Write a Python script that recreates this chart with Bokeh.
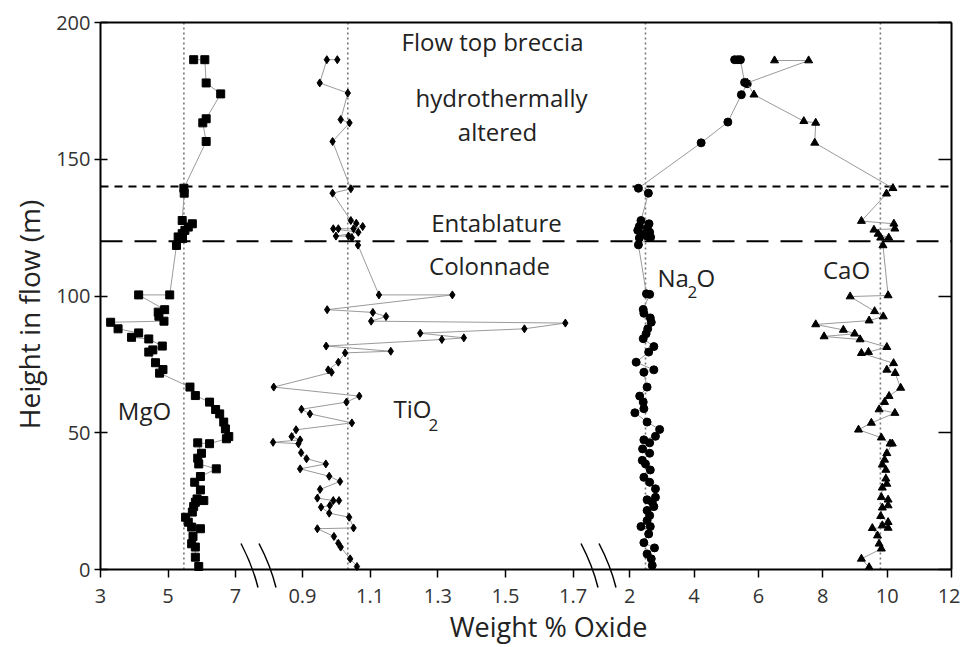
import numpy as np
from bokeh.plotting import figure
from bokeh.models import Range1d, LinearAxis, FixedTicker
from bokeh.core.properties import value
from bokeh.embed import file_html
from bokeh.resources import INLINE

# ---------------- data ----------------
mgo_val = [5.76, 6.09, 6.13, 6.56, 6.13, 6.03, 6.13, 5.47, 5.48, 5.42, 5.72, 5.60, 5.50, 5.42,
           5.30, 5.43, 5.25, 5.05, 4.13, 4.90, 4.71, 4.73, 4.88, 3.30, 3.52, 4.13, 3.92, 4.43,
           4.83, 4.55, 4.43, 4.63, 4.85, 4.75, 5.65, 5.81, 6.23, 6.41, 6.53, 6.65, 6.70, 6.80,
           6.73, 6.23, 5.88, 5.99, 5.88, 5.91, 6.43, 5.96, 5.79, 5.96, 5.86, 6.06, 5.81, 5.76,
           5.72, 5.52, 5.60, 5.70, 5.96, 5.74, 5.70, 5.81, 5.81, 5.91]
mgo_h = [186.4, 186.4, 177.9, 173.9, 164.8, 163.3, 156.5, 139.4, 137.6, 127.6, 126.4, 125.2,
         124.0, 122.8, 121.6, 121.0, 118.5, 100.4, 100.4, 95.0, 94.1, 92.6, 90.8, 90.4, 88.0,
         86.5, 84.9, 84.3, 81.7, 80.3, 79.5, 75.6, 73.1, 71.8, 66.7, 63.6, 61.2, 58.5, 56.9,
         53.9, 51.4, 48.6, 47.8, 46.0, 46.3, 42.5, 40.7, 38.6, 36.8, 34.0, 31.9, 29.1, 25.8,
         25.2, 24.6, 23.0, 21.0, 19.1, 17.3, 15.5, 14.9, 12.1, 9.4, 8.2, 4.5, 1.1]

tio2_val = [1.003, 0.972, 0.951, 1.034, 1.013, 1.039, 0.989, 1.043, 0.989, 1.043, 1.059, 1.078,
            1.051, 1.006, 0.991, 1.065, 0.999, 1.036, 1.046, 1.064, 1.126, 1.343, 0.973, 1.108,
            1.147, 1.103, 1.677, 1.556, 1.248, 1.377, 1.312, 0.970, 1.161, 1.026, 1.006, 0.976,
            0.986, 0.815, 1.068, 1.030, 0.897, 0.922, 1.046, 0.881, 0.868, 0.893, 0.813, 0.888,
            0.896, 0.912, 0.969, 0.893, 0.979, 1.011, 0.952, 0.944, 0.991, 1.008, 0.981, 0.955,
            0.979, 1.038, 1.051, 0.944, 0.993, 1.006, 1.013, 1.041, 1.061]
tio2_h = [186.4, 186.4, 177.9, 174.2, 164.5, 163.3, 156.5, 139.2, 137.6, 127.6, 126.6, 125.4,
          124.6, 124.6, 124.6, 123.3, 121.9, 121.9, 121.3, 118.6, 100.4, 100.4, 95.0, 94.0,
          92.5, 90.8, 90.1, 88.0, 86.4, 84.7, 84.1, 81.7, 79.8, 79.2, 75.8, 73.0, 72.1, 66.7,
          63.4, 61.2, 58.6, 56.9, 53.6, 51.1, 48.6, 47.4, 46.5, 46.0, 42.7, 40.5, 38.6, 36.8,
          34.1, 32.2, 29.3, 26.1, 25.2, 25.2, 23.4, 22.8, 20.6, 19.1, 15.2, 14.9, 12.1, 9.6,
          8.2, 3.9, 1.1]

na2o_val = [5.26, 5.36, 5.44, 5.57, 5.65, 5.47, 5.05, 4.22, 2.27, 2.58, 2.35, 2.60, 2.30, 2.55,
            2.25, 2.62, 2.40, 2.55, 2.30, 2.65, 2.27, 2.52, 2.62, 2.42, 2.44, 2.64, 2.67, 2.56,
            2.51, 2.42, 2.75, 2.59, 2.20, 2.75, 2.44, 2.54, 2.31, 2.42, 2.44, 2.16, 2.54, 2.93,
            2.80, 2.44, 2.62, 2.40, 2.62, 2.39, 2.49, 2.64, 2.44, 2.62, 2.80, 2.80, 2.54, 2.70,
            2.75, 2.54, 2.62, 2.54, 2.35, 2.64, 2.59, 2.44, 2.77, 2.54, 2.67, 2.70]
na2o_h = [186.4, 186.4, 186.4, 178.1, 177.6, 173.6, 163.6, 156.0, 139.4, 137.6, 127.6, 126.4,
          125.5, 124.8, 124.0, 123.3, 122.6, 121.8, 121.2, 121.5, 118.7, 100.8, 100.6, 95.1,
          93.7, 92.0, 90.4, 88.0, 86.2, 84.4, 81.5, 79.5, 75.8, 73.0, 72.1, 66.7, 63.4, 61.2,
          58.8, 57.3, 53.9, 51.2, 48.7, 47.4, 46.3, 44.1, 42.5, 39.9, 38.6, 36.4, 33.7, 31.9,
          29.5, 26.4, 25.5, 24.6, 23.0, 21.6, 19.7, 17.9, 15.7, 15.7, 13.0, 9.8, 7.9, 5.7,
          3.9, 1.5]

cao_val = [6.50, 7.56, 5.65, 5.86, 7.41, 7.78, 7.75, 10.18, 9.98, 9.20, 10.21, 10.24, 9.59, 9.72,
           10.05, 9.80, 9.87, 10.03, 8.85, 9.61, 9.88, 9.44, 7.78, 8.64, 8.99, 8.04, 9.16, 9.99,
           9.42, 9.20, 10.20, 9.99, 10.25, 10.42, 10.06, 9.92, 9.75, 10.24, 9.51, 9.11, 9.82,
           10.09, 10.16, 9.99, 9.92, 9.85, 9.96, 9.96, 9.99, 9.85, 9.82, 10.03, 10.03, 9.85,
           9.80, 10.03, 9.85, 10.03, 9.54, 9.70, 9.75, 9.82, 9.20, 9.44]
cao_h = [186.1, 186.1, 177.9, 173.6, 163.9, 163.3, 156.0, 139.4, 137.4, 127.4, 126.4, 124.6,
         124.2, 122.7, 121.3, 121.3, 118.5, 100.2, 99.8, 94.4, 92.5, 91.0, 89.6, 87.6, 86.2,
         85.2, 84.1, 81.3, 79.5, 79.1, 75.4, 73.0, 71.8, 66.4, 63.4, 61.2, 58.5, 57.2, 53.6,
         51.1, 48.2, 46.0, 46.0, 42.5, 40.1, 38.3, 36.4, 33.2, 31.3, 29.9, 26.4, 25.5, 23.4,
         22.6, 19.5, 17.3, 16.1, 15.2, 15.1, 12.4, 9.4, 7.6, 3.9, 0.8]

# reference (mean) values drawn as dotted verticals
ref_mgo, ref_tio2, ref_na2o, ref_cao = 5.47, 1.034, 2.49, 9.79
# unit boundaries (m)
boundary_top = 140
boundary_entab = 120

# tick labels of the broken axis
ticks_mgo = [3, 5, 7]
ticks_tio2 = [0.9, 1.1, 1.3, 1.5, 1.7]
ticks_ox = [2, 4, 6, 8, 10, 12]
ticks_y = [0, 50, 100, 150, 200]
y_min, y_max = 0, 200

# ---------------- layout / broken axis geometry ----------------
FONT = "Open Sans"
TXT = "#222222"
W, H = 960, 647                 # canvas
X_LEFT, X_RIGHT = 100, 951      # data-area edges (px)
Y_TOP, Y_BOT = 22, 569          # data-area edges (px)
FRAME_W = X_RIGHT - X_LEFT
SEG_MGO = (3.0, 7.68, 0, 158)      # data start, data end, px start, px end (from data-area left)
SEG_TIO2 = (0.77, 1.775, 158, 498)
SEG_OX = (1.03, 12.0, 498, 851)

XMIN, XMAX = -X_LEFT, W - X_LEFT
k_y = (y_max - y_min) / (Y_BOT - Y_TOP)
y_range = Range1d(y_min - (H - Y_BOT) * k_y, y_max + Y_TOP * k_y)


def full_range(seg):
    a, b, p0, p1 = seg
    k = (b - a) / (p1 - p0)
    return Range1d(a - (p0 - XMIN) * k, a + (XMAX - p0) * k)


def to_frame(v, seg):
    a, b, p0, p1 = seg
    return round(p0 + (v - a) * (p1 - p0) / (b - a), 3)


def px_to_y(py):
    return y_max - (py - Y_TOP) * k_y


p = figure(width=W, height=H, x_range=Range1d(XMIN, XMAX), y_range=y_range,
           output_backend="svg", toolbar_location=None, min_border=0,
           min_border_left=0, min_border_right=0, min_border_top=0, min_border_bottom=0)
p.extra_x_ranges = {"mgo": full_range(SEG_MGO), "tio2": full_range(SEG_TIO2),
                    "ox": full_range(SEG_OX)}
p.grid.visible = False
p.outline_line_color = None
p.background_fill_color = "white"
p.border_fill_color = "white"

# bottom axis (broken)
tick_pos, overrides = [], {}
for vals, seg in ((ticks_mgo, SEG_MGO), (ticks_tio2, SEG_TIO2), (ticks_ox, SEG_OX)):
    for v in vals:
        pos = to_frame(v, seg)
        tick_pos.append(pos)
        overrides[pos] = str(v)
xa = p.xaxis[0]
xa.fixed_location = y_min
xa.bounds = (0, FRAME_W)
xa.ticker = FixedTicker(ticks=tick_pos)
xa.major_label_overrides = overrides
xa.minor_tick_line_color = None
xa.major_tick_in = 0
xa.major_tick_out = 8
xa.major_tick_line_width = 1.5
xa.axis_line_width = 2
xa.major_label_text_font = FONT
xa.major_label_text_font_size = "20px"
xa.major_label_text_color = "#333333"
xa.major_label_standoff = 11

ya = p.yaxis[0]
ya.fixed_location = 0
ya.bounds = (y_min, y_max)
ya.ticker = FixedTicker(ticks=ticks_y)
ya.minor_tick_line_color = None
ya.major_tick_in = 7
ya.major_tick_out = 6
ya.major_tick_line_width = 1.5
ya.axis_line_width = 2
ya.major_label_text_font = FONT
ya.major_label_text_font_size = "20px"
ya.major_label_text_color = "#333333"
ya.major_label_standoff = 4

ra = LinearAxis(ticker=FixedTicker(ticks=ticks_y), fixed_location=FRAME_W,
                bounds=(y_min, y_max), major_label_overrides={t: "" for t in ticks_y},
                major_tick_in=13, major_tick_out=0, major_tick_line_width=1.5,
                minor_tick_line_color=None, axis_line_width=2, major_label_standoff=0)
p.add_layout(ra, "right")
ta = LinearAxis(ticker=FixedTicker(ticks=[]), fixed_location=y_max, bounds=(0, FRAME_W),
                major_tick_line_color=None, minor_tick_line_color=None, axis_line_width=2)
p.add_layout(ta, "above")

# boundaries
for loc, dash in ((boundary_top, "8 6"), (boundary_entab, "22 12")):
    p.segment(x0=[0], y0=[loc], x1=[FRAME_W], y1=[loc], line_color="black",
              line_width=2, line_dash=dash)

# dotted reference verticals
for ref, rng in ((ref_mgo, "mgo"), (ref_tio2, "tio2"), (ref_na2o, "ox"), (ref_cao, "ox")):
    p.segment(x0=[ref], y0=[y_min], x1=[ref], y1=[y_max], x_range_name=rng,
              line_color="#777777", line_width=1.6, line_dash="2 3")

LINE = "#9a9a9a"
p.line(mgo_val, mgo_h, x_range_name="mgo", line_color=LINE, line_width=1)
p.scatter(mgo_val, mgo_h, x_range_name="mgo", marker="square", size=8, color="black")

p.line(tio2_val, tio2_h, x_range_name="tio2", line_color=LINE, line_width=1)
p.scatter(tio2_val, tio2_h, x_range_name="tio2", marker="diamond", size=8, color="black")

p.line(na2o_val, na2o_h, x_range_name="ox", line_color=LINE, line_width=1)
p.scatter(na2o_val, na2o_h, x_range_name="ox", marker="circle", size=8, color="black")

p.line(cao_val, cao_h, x_range_name="ox", line_color=LINE, line_width=1)
p.scatter(cao_val, cao_h, x_range_name="ox", marker="triangle", size=8, color="black")

# in-plot texts (x: px from data-area left, y: height)
big = dict(text_font=value(FONT), text_font_size="24px", text_color=TXT, text_baseline="middle")
p.text(x=[392, 401, 397, 396, 389], y=[193, 172.6, 160.1, 126.9, 111.2],
       text=["Flow top breccia", "hydrothermally", "altered", "Entablature", "Colonnade"],
       text_align="center", **big)
p.text(x=[44, 746], y=[58.1, 109.7], text=["MgO", "CaO"], text_align="center", **big)
p.text(x=[293, 557, 596], y=[58.9, 106.8, 106.8], text=["TiO", "Na", "O"], text_align="left", **big)
p.text(x=[328, 587], y=[53.0, 101.6], text=["2", "2"], text_align="left",
       text_font=value(FONT), text_font_size="17px", text_color=TXT, text_baseline="middle")

# axis titles
p.text(x=[28 - X_LEFT], y=[px_to_y(314)], text=["Height in flow (m)"], angle=np.pi / 2,
       text_font=value(FONT), text_font_size="28px", text_color=TXT,
       text_align="center", text_baseline="middle")
p.text(x=[548 - X_LEFT], y=[px_to_y(626)], text=["Weight % Oxide"],
       text_font=value(FONT), text_font_size="27px", text_color=TXT,
       text_align="center", text_baseline="middle")

# axis break marks (two slashes at each break)
for bx in (SEG_MGO[3], SEG_TIO2[3]):
    for dx in (-9, 9):
        cx = bx + dx
        p.quadratic(x0=[cx - 8.5], y0=[px_to_y(Y_BOT - 26)], x1=[cx + 8.5],
                    y1=[px_to_y(Y_BOT + 18)], cx=[cx + 3], cy=[px_to_y(Y_BOT - 4)],
                    line_color="black", line_width=1.5)

open("out.html", "w").write(file_html(p, INLINE))
